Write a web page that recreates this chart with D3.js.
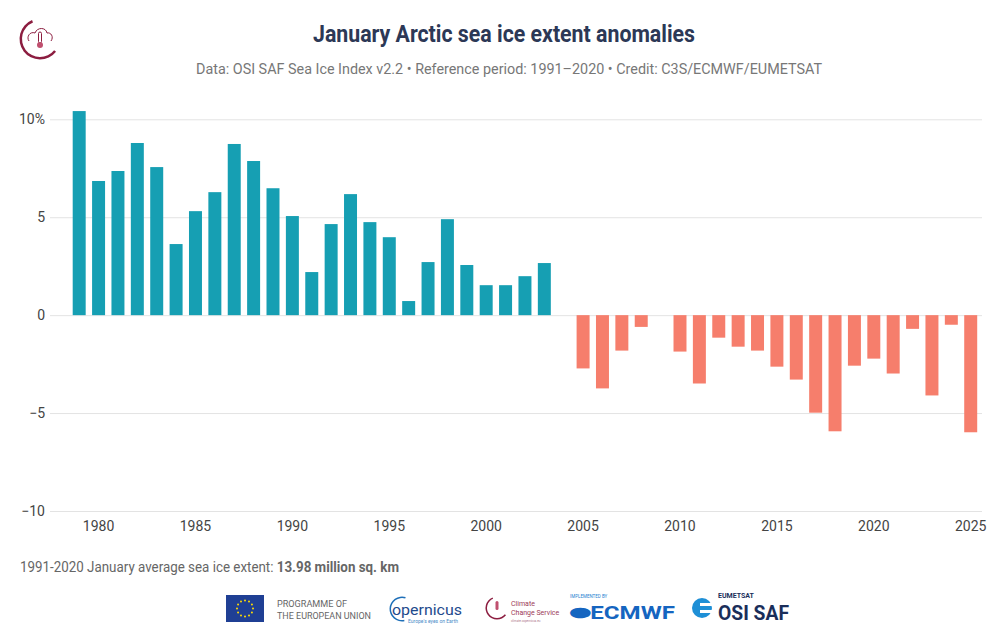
<!DOCTYPE html>
<html>
<head>
<meta charset="utf-8">
<script src="https://cdn.jsdelivr.net/npm/d3@7"></script>
<style>
  body { margin: 0; background: #fff; }
  text { font-family: Roboto, "Liberation Sans", sans-serif; }
</style>
</head>
<body>
<script>
// data (anomaly in % of 1991-2020 mean)
var years = d3.range(1979, 2026);
var anomalies = [
  10.42, 6.85, 7.36, 8.79, 7.56, 3.63, 5.31, 6.28, 8.74, 7.87,
  6.48, 5.06, 2.20, 4.65, 6.18, 4.75, 3.98, 0.72, 2.71, 4.90,
  2.56, 1.53, 1.53, 1.99, 2.66, 0.0, -2.72, -3.74, -1.81, -0.60,
  0.0, -1.86, -3.49, -1.15, -1.61, -1.81, -2.63, -3.29, -4.98, -5.93,
  -2.58, -2.22, -2.98, -0.70, -4.10, -0.49, -5.98
];
var yTicks = [-10, -5, 0, 5, 10];
var xTicks = [1980, 1985, 1990, 1995, 2000, 2005, 2010, 2015, 2020, 2025];

var w = 997, h = 632;
var teal = "#169fb3", salmon = "#f67e6c";

var svg = d3.select("body").append("svg")
    .attr("width", w)
    .attr("height", h);

// scales
var x = d3.scaleBand()
    .domain(years)
    .range([69.5, 980.4])
    .paddingInner(0.33)
    .paddingOuter(0.165);

var y = d3.scaleLinear()
    .domain([-10, 10])
    .range([511, 119.3]);

// gridlines
svg.append("g")
  .selectAll("line")
  .data(yTicks)
  .enter()
  .append("line")
  .attr("x1", 50)
  .attr("x2", 982)
  .attr("y1", function(d){ return y(d) + 0.5; })
  .attr("y2", function(d){ return y(d) + 0.5; })
  .attr("stroke", "#e3e3e3")
  .attr("stroke-width", 1);

// y axis labels
svg.append("g")
  .selectAll("text")
  .data(yTicks)
  .enter()
  .append("text")
  .attr("x", 45)
  .attr("y", function(d){ return y(d) + 5; })
  .attr("text-anchor", "end")
  .attr("font-size", 14)
  .attr("fill", "#444")
  .text(function(d){
    if (d === 10) return "10%";
    return d < 0 ? "\u2212" + Math.abs(d) : d;
  });

// bars
var data = years.map(function(yr, i){ return {year: yr, value: anomalies[i]}; });

svg.append("g")
  .selectAll("rect")
  .data(data)
  .enter()
  .append("rect")
  .attr("x", function(d){ return x(d.year); })
  .attr("width", x.bandwidth())
  .attr("y", function(d){ return d.value >= 0 ? y(d.value) : y(0); })
  .attr("height", function(d){ return Math.abs(y(d.value) - y(0)); })
  .attr("fill", function(d){ return d.value >= 0 ? teal : salmon; });

// x axis labels
svg.append("g")
  .selectAll("text")
  .data(xTicks)
  .enter()
  .append("text")
  .attr("x", function(d){ return x(d) + x.bandwidth() / 2; })
  .attr("y", 531)
  .attr("text-anchor", "middle")
  .attr("font-size", 14)
  .attr("fill", "#444")
  .text(function(d){ return d; });

// title + subtitle
svg.append("text")
  .attr("x", 504)
  .attr("y", 42)
  .attr("text-anchor", "middle")
  .attr("font-size", 23)
  .attr("font-weight", "bold")
  .attr("fill", "#2c3856")
  .attr("textLength", 382)
  .attr("lengthAdjust", "spacingAndGlyphs")
  .text("January Arctic sea ice extent anomalies");

svg.append("text")
  .attr("x", 509)
  .attr("y", 74)
  .attr("text-anchor", "middle")
  .attr("font-size", 15)
  .attr("fill", "#777")
  .attr("textLength", 626)
  .attr("lengthAdjust", "spacingAndGlyphs")
  .text("Data: OSI SAF Sea Ice Index v2.2 \u2022 Reference period: 1991\u20132020 \u2022 Credit: C3S/ECMWF/EUMETSAT");

// footnote
var foot = svg.append("text")
  .attr("x", 20)
  .attr("y", 572)
  .attr("font-size", 14)
  .attr("fill", "#666")
  .attr("textLength", 379)
  .attr("lengthAdjust", "spacingAndGlyphs");
foot.append("tspan").text("1991-2020 January average sea ice extent: ");
foot.append("tspan").attr("font-weight", "bold").text("13.98 million sq. km");

// top-left C3S-style logo
var logo = svg.append("g").attr("transform", "translate(40,39)");
logo.append("path")
  .attr("d", d3.arc()({innerRadius: 18, outerRadius: 20.5, startAngle: -0.4, endAngle: -Math.PI - 0.9}))
  .attr("fill", "#8c1d40");
logo.append("path")
  .attr("d", "M-11,2 C-14,-2 -10,-8 -5,-6 C-3,-12 6,-12 7,-6 C11,-7 14,-2 11,2")
  .attr("fill", "none").attr("stroke", "#8c1d40").attr("stroke-width", 1);
logo.append("rect").attr("x", -1.5).attr("y", -7).attr("width", 3).attr("height", 11)
  .attr("rx", 1.5).attr("fill", "none").attr("stroke", "#8c1d40");
logo.append("circle").attr("cx", 0).attr("cy", 6).attr("r", 3).attr("fill", "#c0506f");

// bottom logos (simplified)
var lg = svg.append("g");
lg.append("rect").attr("x", 226).attr("y", 595).attr("width", 38).attr("height", 27).attr("fill", "#1f3f94");
d3.range(12).forEach(function(i){
  var a = i / 12 * 2 * Math.PI;
  lg.append("circle")
    .attr("cx", 245 + 8 * Math.cos(a))
    .attr("cy", 608.5 + 8 * Math.sin(a))
    .attr("r", 1).attr("fill", "#ffdd00");
});
lg.append("text").attr("x", 277).attr("y", 607).attr("font-size", 9).attr("fill", "#666")
  .attr("textLength", 70).attr("lengthAdjust", "spacingAndGlyphs").text("PROGRAMME OF");
lg.append("text").attr("x", 277).attr("y", 619).attr("font-size", 9).attr("fill", "#666")
  .attr("textLength", 94).attr("lengthAdjust", "spacingAndGlyphs").text("THE EUROPEAN UNION");

lg.append("path")
  .attr("d", d3.arc()({innerRadius: 11, outerRadius: 12.5, startAngle: 0.3, endAngle: -Math.PI - 0.2}))
  .attr("transform", "translate(402,609)")
  .attr("fill", "#1e6fb8");
lg.append("text").attr("x", 392).attr("y", 615).attr("font-size", 15).attr("fill", "#1e4a8c")
  .attr("textLength", 70).attr("lengthAdjust", "spacingAndGlyphs").text("opernicus");
lg.append("text").attr("x", 408).attr("y", 623).attr("font-size", 5).attr("fill", "#4a8cc8").text("Europe's eyes on Earth");

lg.append("path")
  .attr("d", d3.arc()({innerRadius: 10, outerRadius: 11.5, startAngle: -0.4, endAngle: -Math.PI - 0.9}))
  .attr("transform", "translate(497,608)")
  .attr("fill", "#8c1d40");
lg.append("rect").attr("x", 495.5).attr("y", 601).attr("width", 3).attr("height", 9).attr("rx", 1.5).attr("fill", "#c0506f");
lg.append("text").attr("x", 511).attr("y", 606).attr("font-size", 7).attr("fill", "#9c3a58").text("Climate");
lg.append("text").attr("x", 511).attr("y", 615).attr("font-size", 7).attr("fill", "#9c3a58").text("Change Service");
lg.append("text").attr("x", 511).attr("y", 622).attr("font-size", 3).attr("fill", "#b07a8c").text("climate.copernicus.eu");

lg.append("text").attr("x", 570).attr("y", 598).attr("font-size", 4.5).attr("fill", "#1e7fd0").text("IMPLEMENTED BY");
lg.append("text").attr("x", 570).attr("y", 619).attr("font-size", 19).attr("font-weight", "bold").attr("fill", "#1565c0")
  .attr("textLength", 105).attr("lengthAdjust", "spacingAndGlyphs").text("\u2b2cECMWF");

lg.append("circle").attr("cx", 702).attr("cy", 608).attr("r", 10).attr("fill", "#1e8fd6");
lg.append("rect").attr("x", 700).attr("y", 603).attr("width", 12).attr("height", 3).attr("fill", "#fff");
lg.append("rect").attr("x", 700).attr("y", 610).attr("width", 12).attr("height", 3).attr("fill", "#fff");
lg.append("text").attr("x", 718).attr("y", 598).attr("font-size", 7).attr("font-weight", "bold").attr("fill", "#1a2e5a").text("EUMETSAT");
lg.append("text").attr("x", 718).attr("y", 620).attr("font-size", 20).attr("font-weight", "bold").attr("fill", "#1a2e5a")
  .attr("textLength", 71).attr("lengthAdjust", "spacingAndGlyphs").text("OSI SAF");
</script>
</body>
</html>
